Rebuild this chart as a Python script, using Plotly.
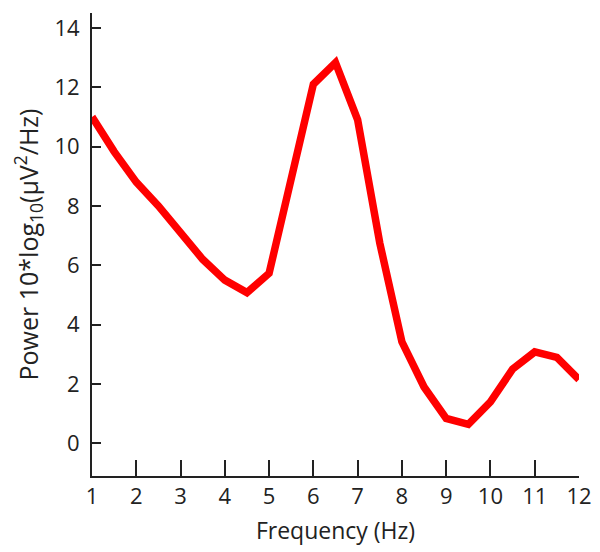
import plotly.graph_objects as go

freq = [1, 1.5, 2, 2.5, 3, 3.5, 4, 4.5, 5, 5.5, 6, 6.5, 7, 7.5, 8, 8.5, 9, 9.5, 10, 10.5, 11, 11.5, 12]
power = [11.0, 9.83, 8.8, 8.0, 7.1, 6.2, 5.5, 5.08, 5.73, 8.95, 12.1, 12.83, 10.9, 6.75, 3.42, 1.9, 0.84, 0.64, 1.4, 2.5, 3.08, 2.9, 2.15]

x_ticks = list(range(1, 13))
y_ticks = list(range(0, 15, 2))

font_family = "Open Sans, Lato, sans-serif"
text_color = "#222222"

fig = go.Figure()
fig.add_trace(go.Scatter(
    x=freq, y=power, mode="lines",
    line=dict(color="#ff0000", width=7.5),
    showlegend=False,
))

# page body adds an ~8px offset; margins compensate
fig.update_layout(
    width=600, height=552,
    margin=dict(l=84, r=29, t=5, b=84),
    paper_bgcolor="white", plot_bgcolor="white",
    font=dict(family=font_family, size=18, color=text_color),
)
fig.update_xaxes(
    range=[1, 12], tickvals=x_ticks, ticktext=[str(v) for v in x_ticks],
    ticks="inside", ticklen=16, tickwidth=2, tickcolor="#222",
    showline=True, linecolor="#222", linewidth=2,
    showgrid=False, zeroline=False,
    tickfont=dict(size=22),
    ticklabelstandoff=0,
    title=dict(text="Frequency (Hz)", font=dict(size=23), standoff=13),
)
fig.update_yaxes(
    range=[-1.1, 14.5], tickvals=y_ticks, ticktext=[str(v) for v in y_ticks],
    ticks="inside", ticklen=9, tickwidth=2, tickcolor="#222",
    showline=True, linecolor="#222", linewidth=2,
    showgrid=False, zeroline=False,
    tickfont=dict(size=22),
    ticklabelstandoff=6,
    title=dict(text="Power 10*log<sub>10</sub>(μV<sup>2</sup>/Hz)", font=dict(size=25), standoff=11),
)

fig.write_html("out.html")
